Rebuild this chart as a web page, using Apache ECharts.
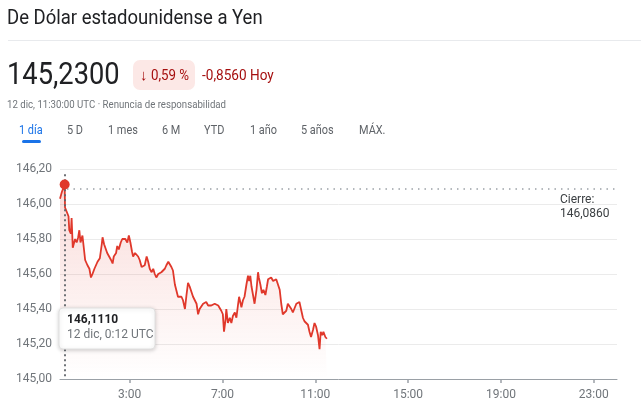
<!DOCTYPE html>
<html>
<head>
<meta charset="utf-8">
<script src="https://cdn.jsdelivr.net/npm/echarts/dist/echarts.min.js"></script>
<style>
html,body{margin:0;padding:0;background:#fff;}
#chart{width:641px;height:412px;}
</style>
</head>
<body>
<div id="chart"></div>
<script>
// minutes since 00:00 UTC, 12 dic
const times = [0,5,12,13,17,22,24,28,30,33,34,39,43,47,50,53,58,62,65,71,76,80,84,89,93,97,103,108,110,114,119,122,127,132,136,139,145,148,152,157,161,165,169,174,178,182,186,189,194,198,202,206,211,215,219,224,228,232,237,241,245,249,254,258,262,267,271,275,280,284,288,292,297,301,305,310,314,318,323,327,331,335,340,344,348,353,357,361,366,370,374,378,383,387,391,396,400,404,409,413,417,421,424,428,430,434,439,443,447,452,456,460,463,466,469,473,477,482,486,489,492,495,499,503,508,512,514,518,522,526,531,535,538,542,546,551,555,559,563,568,572,576,581,585,589,594,598,602,606,611,615,619,624,628,632,637,641,645,649,654,658,662,667,671,674,678,681,686,690];
// USD/JPY rate
const rates = [146.03,146.07,146.111,145.98,145.98,145.93,145.85,145.83,145.92,145.75,145.74,145.80,145.78,145.81,145.85,145.78,145.82,145.74,145.68,145.65,145.63,145.58,145.60,145.63,145.64,145.67,145.69,145.77,145.81,145.77,145.76,145.72,145.73,145.68,145.66,145.70,145.72,145.76,145.74,145.78,145.80,145.79,145.80,145.78,145.82,145.78,145.73,145.70,145.72,145.71,145.70,145.68,145.64,145.65,145.65,145.70,145.67,145.63,145.61,145.63,145.60,145.58,145.60,145.59,145.61,145.62,145.63,145.65,145.67,145.66,145.64,145.62,145.54,145.53,145.47,145.46,145.47,145.45,145.40,145.48,145.55,145.53,145.54,145.47,145.46,145.43,145.37,145.40,145.41,145.43,145.42,145.44,145.42,145.43,145.42,145.43,145.43,145.44,145.42,145.42,145.39,145.37,145.27,145.34,145.40,145.32,145.35,145.32,145.36,145.38,145.35,145.42,145.47,145.44,145.41,145.45,145.47,145.54,145.59,145.56,145.59,145.53,145.52,145.43,145.51,145.61,145.58,145.54,145.49,145.51,145.48,145.53,145.57,145.56,145.58,145.56,145.55,145.57,145.58,145.51,145.43,145.37,145.38,145.39,145.43,145.43,145.40,145.38,145.39,145.43,145.43,145.44,145.39,145.35,145.33,145.34,145.31,145.27,145.24,145.28,145.32,145.30,145.25,145.17,145.27,145.25,145.27,145.24,145.23];
const xTickHours = [3,7,11,15,19,23];
const closePrev = 146.086;
const hoverMinute = 12;
const hoverRate = 146.111;
const tabs = ['1 día','5 D','1 mes','6 M','YTD','1 año','5 años','MÁX.'];
const tabX = [19,67,108,162,204,250,301,359];

const fmt = (v, d) => v.toFixed(d).replace('.', ',');
const seriesData = times.map((t, i) => [t / 60, rates[i]]);

const chart = echarts.init(document.getElementById('chart'), null, {renderer: 'canvas'});

const FONT = 'Roboto, "Noto Sans", sans-serif';
function txt(text, x, y, size, fill, sx, weight, z) {
  return {type:'text', x:x, y:y, scaleX:sx || 1, z: z || 10,
    style:{text:text, x:0, y:0, font:(weight ? weight + ' ' : '') + size + 'px ' + FONT, fill:fill, textVerticalAlign:'middle'}};
}
const graphics = [
  txt('De Dólar estadounidense a Yen', 7, 19, 20, '#202124', 0.925),
  {type:'rect', shape:{x:8, y:40, width:633, height:1}, style:{fill:'#e8eaed'}},
  txt('145,2300', 7, 76, 31, '#202124', 0.88),
  {type:'rect', shape:{x:133, y:60, width:62, height:30, r:7}, style:{fill:'#fce8e6'}},
  txt('↓', 140, 76, 15, '#a50e0e', 1),
  txt('0,59 %', 151, 76, 14, '#a50e0e', 0.95),
  txt('-0,8560 Hoy', 202, 76, 14, '#a50e0e', 0.97),
  txt('12 dic, 11:30:00 UTC · Renuncia de responsabilidad', 7, 105, 11.5, '#70757a', 0.84),
  {type:'rect', shape:{x:22, y:140, width:19, height:3, r:1.5}, style:{fill:'#1a73e8'}},
  txt('Cierre:', 560, 200, 12, '#3c4043', 1),
  txt(fmt(closePrev, 4), 560, 214, 12, '#3c4043', 1),
  {type:'rect', z:100, shape:{x:59, y:308, width:96, height:41, r:4}, style:{fill:'#fff', stroke:'#e0e0e0', lineWidth:1, shadowBlur:4, shadowColor:'rgba(0,0,0,0.18)', shadowOffsetY:1}},
  txt(fmt(hoverRate, 4), 67, 320, 12, '#202124', 1, 'bold', 101),
  txt('12 dic, 0:12 UTC', 67, 335, 12, '#70757a', 1, null, 101)
];
tabs.forEach((t, i) => {
  graphics.push(txt(t, tabX[i], 131, 13, i === 0 ? '#1a73e8' : '#5f6368', 0.84));
});

chart.setOption({
  animation: false,
  grid: {left:60, right:24, top:169, bottom:33, containLabel:false},
  xAxis: {
    type:'value', min:0, max:24,
    axisLine:{show:true, lineStyle:{color:'#9aa0a6', width:1}},
    axisTick:{show:true, customValues:xTickHours, length:4, lineStyle:{color:'#9aa0a6', width:1.5}},
    axisLabel:{customValues:xTickHours, margin:10, color:'#70757a', fontSize:12, fontFamily:FONT, formatter: v => Math.round(v) + ':00'},
    splitLine:{show:false}
  },
  yAxis: {
    type:'value', min:145, max:146.2, interval:0.2,
    axisLine:{show:false}, axisTick:{show:false},
    axisLabel:{margin:8, color:'#70757a', fontSize:12, fontFamily:FONT, formatter: v => fmt(v, 2)},
    splitLine:{lineStyle:{color:'#ebebeb', width:1}}
  },
  series: [{
    type:'line', data:seriesData, showSymbol:false, symbol:'none',
    lineStyle:{color:'#e0382b', width:1.8},
    areaStyle:{origin:'start', color:new echarts.graphic.LinearGradient(0,0,0,1,[{offset:0,color:'rgba(224,56,43,0.25)'},{offset:1,color:'rgba(224,56,43,0.0)'}])},
    markLine:{
      silent:true, symbol:'none', label:{show:false},
      data:[
        [{coord:[0.3, closePrev], lineStyle:{color:'#9aa0a6', type:[1.5,5], width:1.5}}, {coord:[24, closePrev]}],
        [{coord:[hoverMinute/60, 146.17], lineStyle:{color:'#5f6368', type:[2,3], width:1.8}}, {coord:[hoverMinute/60, 145]}]
      ]
    },
    markPoint:{
      silent:true, symbol:'circle', symbolSize:10, label:{show:false},
      itemStyle:{color:'#e0382b'},
      data:[{coord:[hoverMinute/60, hoverRate]}]
    }
  }],
  graphic: graphics
});
</script>
</body>
</html>
